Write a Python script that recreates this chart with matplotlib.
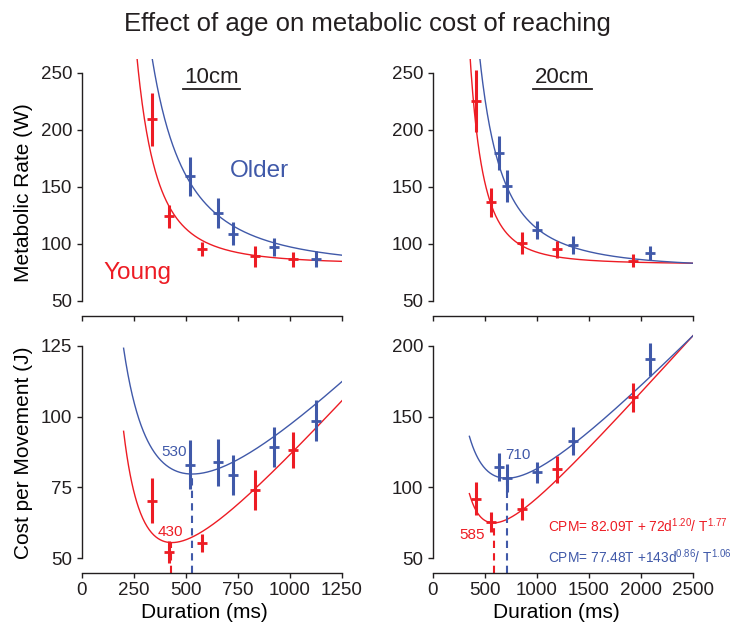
#!/usr/bin/env python3
"""
Effect of age on metabolic cost of reaching.

Four panels: metabolic rate (top) and cost per movement (bottom) against
movement duration, for 10cm and 20cm reaches, young vs older subjects.
"""

import numpy as np
import matplotlib
matplotlib.use('Agg')
import matplotlib.pyplot as plt

RED = '#ED1C24'
BLUE = '#4059A9'
INK = '#231F20'

plt.rcParams['font.family'] = ['Liberation Sans', 'DejaVu Sans']
plt.rcParams['mathtext.fontset'] = 'custom'
plt.rcParams['mathtext.rm'] = 'Liberation Sans'
plt.rcParams['mathtext.default'] = 'regular'
plt.rcParams['text.color'] = INK
plt.rcParams['axes.edgecolor'] = INK
plt.rcParams['xtick.color'] = INK
plt.rcParams['ytick.color'] = INK

# Fitted model parameters: CPM = a*T + b*d^i / T^j  (T in s, d in m)
YOUNG_FIT = {'a': 82.09, 'b': 72, 'i': 1.20, 'j': 1.77}
OLDER_FIT = {'a': 77.48, 'b': 143, 'i': 0.86, 'j': 1.06}

# Optimal durations (ms) marked with dashed lines
YOUNG_OPT_10 = 430
OLDER_OPT_10 = 530
YOUNG_OPT_20 = 585
OLDER_OPT_20 = 710

# 10cm reach data (duration ms, metabolic rate W, cost per movement J)
young_10_dur = [335, 420, 575, 832, 1013]
young_10_mr = [209, 124, 95.5, 89, 86.5]
young_10_mr_err = [23.5, 10, 6, 9, 6.5]
young_10_cpm = [70.3, 52.2, 55.3, 74, 88.3]
young_10_cpm_err = [8, 3.8, 3.2, 7.1, 6.3]

older_10_dur = [519, 655, 724, 923, 1125]
older_10_mr = [159, 127, 108.8, 97, 87]
older_10_mr_err = [17, 13, 10, 8, 7]
older_10_cpm = [83.1, 83.9, 79.3, 89.2, 98.6]
older_10_cpm_err = [8.8, 8.3, 7.1, 7, 7.3]

# 20cm reach data
young_20_dur = [413, 558, 853, 1189, 1920]
young_20_mr = [225, 136.3, 100.9, 95.1, 85.1]
young_20_mr_err = [27, 13, 9.5, 7.7, 5.9]
young_20_cpm = [92.2, 75.6, 84.8, 112.9, 163.8]
young_20_cpm_err = [11.4, 7.4, 7.8, 9.5, 10.3]

older_20_dur = [638, 709, 997, 1349, 2087]
older_20_mr = [179.3, 150.6, 112, 98.9, 91.6]
older_20_mr_err = [15, 14, 7.8, 7.9, 6]
older_20_cpm = [114.3, 106.5, 110.8, 133.1, 190.6]
older_20_cpm_err = [10, 10, 7.3, 9.9, 11.8]


def cpm_model(dur_ms, dist_m, fit):
    """Cost per movement (J) from the fitted model."""
    t = np.asarray(dur_ms, dtype=float) / 1000.0
    return fit['a'] * t + fit['b'] * dist_m ** fit['i'] / t ** fit['j']


def mr_model(dur_ms, dist_m, fit):
    """Metabolic rate (W) = cost per movement / duration."""
    t = np.asarray(dur_ms, dtype=float) / 1000.0
    return cpm_model(dur_ms, dist_m, fit) / t


def style_axes(ax, xmax, xstep, ylim, yticks, show_xlabels):
    ax.set_xlim(0, xmax)
    ax.set_ylim(*ylim)
    ax.set_xticks(np.arange(0, xmax + 1, xstep))
    ax.set_yticks(yticks)
    for side in ('top', 'right'):
        ax.spines[side].set_visible(False)
    ax.spines['left'].set_bounds(yticks[0], yticks[-1])
    for side in ('left', 'bottom'):
        ax.spines[side].set_linewidth(1.0)
    ax.tick_params(axis='both', direction='out', length=3.5, width=1.0,
                   labelsize=13.5, pad=3.5)
    if not show_xlabels:
        ax.tick_params(axis='x', labelbottom=False)


def draw_points(ax, dur, vals, errs, color):
    ax.errorbar(dur, vals, yerr=errs, fmt='none', ecolor=color,
                elinewidth=2.2, capsize=0, zorder=3)
    ax.plot(dur, vals, ls='none', marker='_', ms=7, mew=2.0,
            color=color, zorder=4)


def underline_title(ax, text, x0, x1):
    ax.text((x0 + x1) / 2, 0.907, text, transform=ax.transAxes,
            ha='center', va='baseline', fontsize=16)
    ax.plot([x0, x1], [0.883, 0.883], transform=ax.transAxes,
            color=INK, lw=1.3, clip_on=False)


def main():
    fig = plt.figure(figsize=(7.38, 6.30), dpi=100)

    ax_tl = fig.add_axes([0.1111, 0.4984, 0.3523, 0.4079])
    ax_tr = fig.add_axes([0.5867, 0.4984, 0.3523, 0.4079])
    ax_bl = fig.add_axes([0.1111, 0.0910, 0.3523, 0.3805])
    ax_br = fig.add_axes([0.5867, 0.0910, 0.3523, 0.3805])

    t_left = np.linspace(200, 1250, 400)
    t_right = np.linspace(350, 2500, 400)

    # top-left: metabolic rate, 10cm
    ax = ax_tl
    ax.plot(t_left, mr_model(t_left, 0.1, YOUNG_FIT), color=RED, lw=1.0)
    ax.plot(t_left, mr_model(t_left, 0.1, OLDER_FIT), color=BLUE, lw=1.0)
    draw_points(ax, young_10_dur, young_10_mr, young_10_mr_err, RED)
    draw_points(ax, older_10_dur, older_10_mr, older_10_mr_err, BLUE)
    style_axes(ax, 1250, 250, (36.6, 262), [50, 100, 150, 200, 250], False)
    ax.set_ylabel('Metabolic Rate (W)', fontsize=15)
    ax.yaxis.set_label_coords(-0.188, 0.48)
    underline_title(ax, '10cm', 0.388, 0.608)
    ax.text(0.569, 0.541, 'Older', color=BLUE, fontsize=17.5,
            transform=ax.transAxes, ha='left', va='baseline')
    ax.text(0.081, 0.144, 'Young', color=RED, fontsize=17.5,
            transform=ax.transAxes, ha='left', va='baseline')

    # top-right: metabolic rate, 20cm
    ax = ax_tr
    ax.plot(t_right, mr_model(t_right, 0.2, YOUNG_FIT), color=RED, lw=1.0)
    ax.plot(t_right, mr_model(t_right, 0.2, OLDER_FIT), color=BLUE, lw=1.0)
    draw_points(ax, young_20_dur, young_20_mr, young_20_mr_err, RED)
    draw_points(ax, older_20_dur, older_20_mr, older_20_mr_err, BLUE)
    style_axes(ax, 2500, 500, (36.6, 262), [50, 100, 150, 200, 250], False)
    underline_title(ax, '20cm', 0.385, 0.612)

    # bottom-left: cost per movement, 10cm
    ax = ax_bl
    ax.plot(t_left, cpm_model(t_left, 0.1, YOUNG_FIT), color=RED, lw=1.0)
    ax.plot(t_left, cpm_model(t_left, 0.1, OLDER_FIT), color=BLUE, lw=1.0)
    draw_points(ax, young_10_dur, young_10_cpm, young_10_cpm_err, RED)
    draw_points(ax, older_10_dur, older_10_cpm, older_10_cpm_err, BLUE)
    ylim_bl = (44.9, 129.6)
    style_axes(ax, 1250, 250, ylim_bl, [50, 75, 100, 125], True)
    for opt, color in ((YOUNG_OPT_10, RED), (OLDER_OPT_10, BLUE)):
        ax.plot([opt, opt], [ylim_bl[0], cpm_model(opt, 0.1,
                YOUNG_FIT if color == RED else OLDER_FIT)],
                color=color, lw=1.5, ls=(0, (3.5, 2.5)), zorder=2)
    ax.text(442, 86.1, str(OLDER_OPT_10), color=BLUE, fontsize=11,
            ha='center', va='baseline')
    ax.text(423, 57.9, str(YOUNG_OPT_10), color=RED, fontsize=11,
            ha='center', va='baseline')
    ax.set_ylabel('Cost per Movement (J)', fontsize=15)
    ax.yaxis.set_label_coords(-0.188, 0.5)
    ax.set_xlabel('Duration (ms)', fontsize=15)
    ax.xaxis.set_label_coords(0.469, -0.125)

    # bottom-right: cost per movement, 20cm
    ax = ax_br
    ax.plot(t_right, cpm_model(t_right, 0.2, YOUNG_FIT), color=RED, lw=1.0)
    ax.plot(t_right, cpm_model(t_right, 0.2, OLDER_FIT), color=BLUE, lw=1.0)
    draw_points(ax, young_20_dur, young_20_cpm, young_20_cpm_err, RED)
    draw_points(ax, older_20_dur, older_20_cpm, older_20_cpm_err, BLUE)
    ylim_br = (39.8, 209.2)
    style_axes(ax, 2500, 500, ylim_br, [50, 100, 150, 200], True)
    for opt, color in ((YOUNG_OPT_20, RED), (OLDER_OPT_20, BLUE)):
        ax.plot([opt, opt], [ylim_br[0], cpm_model(opt, 0.2,
                YOUNG_FIT if color == RED else OLDER_FIT)],
                color=color, lw=1.5, ls=(0, (3.5, 2.5)), zorder=2)
    ax.text(817, 120.2, str(OLDER_OPT_20), color=BLUE, fontsize=11,
            ha='center', va='baseline')
    ax.text(380, 63.6, str(YOUNG_OPT_20), color=RED, fontsize=11,
            ha='center', va='baseline')
    ax.text(1106, 68.8, r'CPM= 82.09T + 72d$^{1.20}$/ T$^{1.77}$',
            color=RED, fontsize=9.9, ha='left', va='baseline')
    ax.text(1106, 46.5, r'CPM= 77.48T +143d$^{0.86}$/ T$^{1.06}$',
            color=BLUE, fontsize=9.9, ha='left', va='baseline')
    ax.set_xlabel('Duration (ms)', fontsize=15)
    ax.xaxis.set_label_coords(0.473, -0.125)

    fig.text(0.498, 1 - 31 / 630, 'Effect of age on metabolic cost of reaching',
             ha='center', va='baseline', fontsize=18.5)

    fig.savefig('out.png', dpi=100)
    plt.close(fig)


if __name__ == '__main__':
    main()
